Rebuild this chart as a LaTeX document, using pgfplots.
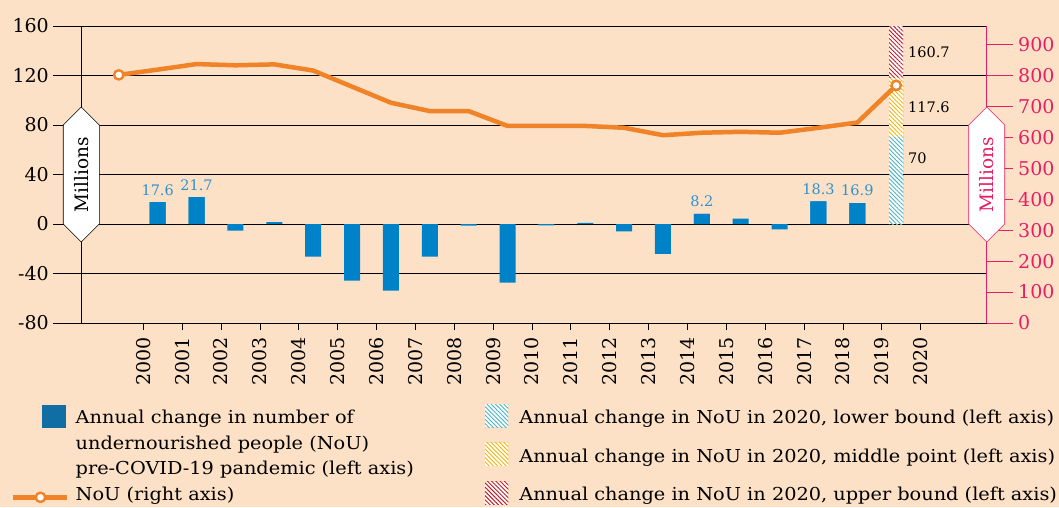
\documentclass[border=0pt]{standalone}
\usepackage{fontspec}
\setmainfont{DejaVu Serif}
\newfontfamily\legfam{DejaVu Serif}[FakeStretch=1.085]
\usepackage{pgfplots}
\pgfplotsset{compat=1.18}
\usetikzlibrary{patterns,patterns.meta,shapes.symbols}
\definecolor{bg}{RGB}{253,225,198}
\definecolor{barblue}{RGB}{0,130,200}
\definecolor{lblblue}{RGB}{45,145,210}
\definecolor{legblue}{RGB}{16,110,165}
\definecolor{orangec}{RGB}{240,130,40}
\definecolor{pinkc}{RGB}{230,30,100}
\definecolor{gridgray}{RGB}{120,108,100}
\definecolor{hcyan}{RGB}{70,180,195}
\definecolor{hyellow}{RGB}{245,180,0}
\definecolor{hred}{RGB}{190,30,40}
\newcommand{\tickfont}{\fontsize{19}{19}\selectfont}
\newcommand{\smallfont}{\fontsize{14.5}{14.5}\selectfont}
\newcommand{\legfont}{\legfam\fontsize{17.8}{25.7}\selectfont}
\newcommand{\labfont}{\fontsize{18.5}{18.5}\selectfont}
\pgfplotsset{
  common/.style={scale only axis, width=905.4pt, height=297pt, xmin=1998.405, xmax=2021.698},
  hatchleg/.style={legend image code/.code={\path[##1] (0pt,-8.5pt) rectangle (23.3pt,14.5pt);}},
  lineleg/.style={legend image code/.code={\draw[##1, mark indices={2}] plot coordinates {(-29.7pt,-1.3pt) (-2pt,-1.3pt) (24.3pt,-1.3pt)};}},
  barleg/.style={legend image code/.code={\fill[legblue] (0pt,17pt) rectangle (23pt,39pt);}},
  hatch/.style={ybar, bar width=14pt, bar shift=0pt, draw=none, fill=white,
    postaction={pattern={Lines[angle=-45,distance=3pt,line width=0.9pt]}, pattern color=#1}, hatchleg},
}
\begin{document}
\begin{tikzpicture}
\useasboundingbox (-81.3pt,-184pt) rectangle (977.7pt,323pt);
\fill[bg] (-81.3pt,-184pt) rectangle (977.7pt,323pt);
% ---------- left axis: bars ----------
\begin{axis}[common, ymin=-80, ymax=160,
  axis x line*=bottom, axis y line*=left,
  axis line style={black, line width=0.8pt},
  xtick=\empty,
  ytick={-80,0,80,160},
  extra y ticks={-40,40,120},
  ymajorgrids,
  major grid style={black, line width=0.8pt},
  extra y tick style={grid style={gridgray, line width=1.3pt}, tick style={gridgray, line width=1.3pt}},
  tick align=outside, major tick length=28.3pt,
  ytick style={black, line width=0.8pt},
  yticklabel style={font=\tickfont, inner sep=0pt, xshift=-4pt},
  /pgf/number format/assume math mode=true,
  legend style={at={(0.4459,-0.2727)}, anchor=north west, draw=none, fill=none,
    inner sep=0pt, outer sep=0pt, row sep=15.6pt, column sep=11pt, font=\legfont,
    nodes={inner sep=0pt, text depth={}, align=left}},
  legend cell align=left,
  reverse legend,
]
\addplot[ybar, bar width=16pt, bar shift=0pt, fill=barblue, draw=none, forget plot] coordinates {
(2000.37,17.6) (2001.37,21.7) (2002.37,-5.4) (2003.37,1.6) (2004.37,-26.4)
(2005.37,-45.8) (2006.37,-53.9) (2007.37,-26.4) (2008.37,-1.3) (2009.37,-47.4)
(2010.37,-1.2) (2011.37,1.0) (2012.37,-6.0) (2013.37,-24.2) (2014.37,8.2)
(2015.37,4.3) (2016.37,-4.4) (2017.37,18.3) (2018.37,16.9)};
\addplot[ybar, bar width=16pt, bar shift=0pt, fill=barblue, draw=none, forget plot,
  nodes near coords, nodes near coords style={font=\smallfont, text=lblblue, anchor=south, inner sep=0pt, yshift=6.7pt}] coordinates {
(2000.37,17.6) (2001.37,21.7) (2014.37,8.2) (2017.37,18.3) (2018.37,16.9)};
\addplot[hatch=hred] coordinates {(2019.37,160.7)};
\addlegendentry{Annual change in NoU in 2020, upper bound (left axis)}
\addplot[hatch=hyellow] coordinates {(2019.37,117.6)};
\addlegendentry{Annual change in NoU in 2020, middle point (left axis)}
\addplot[hatch=hcyan] coordinates {(2019.37,70)};
\addlegendentry{Annual change in NoU in 2020, lower bound (left axis)}
\node[anchor=west, font=\smallfont, inner sep=0pt] at (axis cs:2019.67,139) {160.7};
\node[anchor=west, font=\smallfont, inner sep=0pt] at (axis cs:2019.67,94.5) {117.6};
\node[anchor=west, font=\smallfont, inner sep=0pt] at (axis cs:2019.67,53.3) {70};
\coordinate (lbox) at (axis cs:1998.405,40);
\coordinate (rbox) at (axis cs:2021.698,40);
\end{axis}
% ---------- right axis: NoU line ----------
\begin{axis}[common, ymin=0, ymax=960,
  axis y line*=right, axis x line=none,
  axis line style={pinkc, line width=0.9pt},
  ytick={0,100,...,900}, tick align=outside, major tick length=26.3pt,
  ytick style={pinkc, line width=0.9pt},
  yticklabel style={text=pinkc, font=\tickfont, inner sep=0pt, xshift=5pt},
  /pgf/number format/assume math mode=true,
  legend style={at={(-0.0782,-0.2761)}, anchor=north west, draw=none, fill=none,
    inner sep=0pt, outer sep=0pt, row sep=8.75pt, column sep=6.7pt, font=\legfont,
    nodes={inner sep=0pt, text depth={}, align=left}},
  legend cell align=left,
]
\addlegendimage{barleg}
\addlegendentry{Annual change in number of\\undernourished people (NoU)\\pre-COVID-19 pandemic (left axis)}
\addplot[orangec, line width=4.5pt, line join=round, mark=*, mark indices={1,21}, mark size=4.7pt,
  mark options={fill=white, draw=orangec, line width=2.4pt}, lineleg] coordinates {
(1999.37,802) (2000.37,819) (2001.37,837) (2002.37,833) (2003.37,836)
(2004.37,816) (2005.37,764) (2006.37,712) (2007.37,685) (2008.37,685)
(2009.37,637) (2010.37,637) (2011.37,637) (2012.37,631) (2013.37,607)
(2014.37,615) (2015.37,618) (2016.37,615) (2017.37,631) (2018.37,648)
(2019.37,768)};
\addlegendentry{NoU (right axis)}
\end{axis}
% ---------- x ticks ----------
\begin{axis}[common, ymin=0, ymax=1,
  axis x line*=bottom, axis y line=none,
  xtick={2000,2001,...,2020}, tick align=outside, major tick length=7pt,
  xtick style={black, line width=0.8pt},
  axis line style={black, line width=0.8pt},
  xticklabel style={rotate=90, anchor=east, font=\tickfont, inner sep=0pt, inner xsep=7pt},
  /pgf/number format/1000 sep={}, /pgf/number format/assume math mode=true]
\addplot[draw=none, forget plot] coordinates {(2000,0)};
\end{axis}
\node[signal, signal to=east and west, signal pointer angle=90, draw=black, line width=0.6pt,
  fill=white, rotate=90, minimum width=135pt, minimum height=36pt, inner sep=0pt, font=\labfont] at (lbox) {Millions};
\node[signal, signal to=east and west, signal pointer angle=90, draw=pinkc, line width=0.6pt,
  fill=white, text=pinkc, rotate=90, minimum width=135pt, minimum height=36pt, inner sep=0pt, font=\labfont] at (rbox) {Millions};
\end{tikzpicture}
\end{document}
